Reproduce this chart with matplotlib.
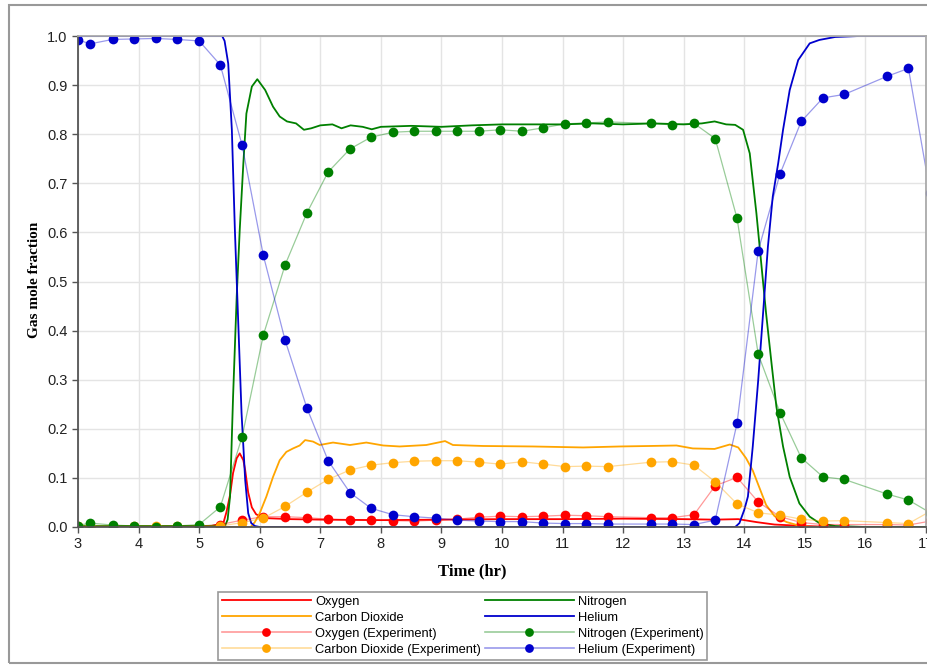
import matplotlib
matplotlib.use("Agg")
import matplotlib.pyplot as plt
from matplotlib.colors import to_rgba
from matplotlib.patches import Rectangle

plt.rcParams['font.family'] = ['Liberation Sans', 'DejaVu Sans']

# experiment sample times (hr)
t_exp = [3.0, 3.2, 3.57, 3.93, 4.28, 4.64, 5.0, 5.35, 5.71, 6.06, 6.42, 6.78, 7.13,
         7.49, 7.84, 8.2, 8.55, 8.91, 9.26, 9.62, 9.97, 10.33, 10.68, 11.04, 11.39,
         11.75, 12.46, 12.81, 13.17, 13.52, 13.88, 14.23, 14.59, 14.94, 15.3, 15.65,
         16.36, 16.71, 17.07]
he_exp = [0.992, 0.984, 0.993, 0.994, 0.995, 0.993, 0.99, 0.941, 0.777, 0.553, 0.38,
          0.242, 0.135, 0.07, 0.038, 0.025, 0.021, 0.018, 0.014, 0.012, 0.011, 0.011,
          0.008, 0.007, 0.007, 0.006, 0.006, 0.006, 0.005, 0.014, 0.211, 0.563, 0.719,
          0.826, 0.874, 0.881, 0.918, 0.934, 0.68]
n2_exp = [0.003, 0.008, 0.004, 0.002, 0.001, 0.002, 0.005, 0.041, 0.184, 0.391, 0.534,
          0.64, 0.723, 0.77, 0.794, 0.804, 0.806, 0.806, 0.806, 0.806, 0.809, 0.806,
          0.813, 0.821, 0.823, 0.825, 0.822, 0.819, 0.822, 0.791, 0.629, 0.352, 0.233,
          0.141, 0.102, 0.097, 0.067, 0.055, 0.029]
o2_exp = [0.001, 0.001, 0.001, 0.001, 0.001, 0.001, 0.001, 0.005, 0.014, 0.021, 0.021,
          0.019, 0.016, 0.014, 0.014, 0.013, 0.012, 0.014, 0.016, 0.02, 0.022, 0.021,
          0.022, 0.024, 0.023, 0.021, 0.019, 0.019, 0.025, 0.084, 0.101, 0.051, 0.021,
          0.009, 0.005, 0.005, 0.005, 0.004, 0.012]
co2_exp = [0.002, 0.002, 0.002, 0.002, 0.002, 0.002, 0.002, 0.002, 0.009, 0.018, 0.042,
           0.071, 0.097, 0.116, 0.126, 0.131, 0.134, 0.135, 0.135, 0.132, 0.128, 0.133,
           0.128, 0.123, 0.124, 0.123, 0.132, 0.133, 0.126, 0.092, 0.047, 0.029, 0.024,
           0.016, 0.012, 0.013, 0.009, 0.007, 0.032]

# simulation curves
he_t = [3.0, 5.38, 5.42, 5.48, 5.54, 5.59, 5.65, 5.7, 5.76, 5.81, 5.86, 5.92, 6.0,
        13.85, 13.92, 14.0, 14.06, 14.14, 14.23, 14.31, 14.39, 14.47, 14.56, 14.64,
        14.75, 14.89, 15.08, 15.24, 15.5, 15.9, 17.0]
he_sim = [1.0, 1.0, 0.99, 0.944, 0.809, 0.605, 0.401, 0.232, 0.096, 0.028, 0.008, 0.002,
          0.0, 0.0, 0.008, 0.035, 0.062, 0.164, 0.299, 0.435, 0.571, 0.673, 0.741, 0.809,
          0.89, 0.951, 0.985, 0.992, 0.998, 1.0, 1.0]

n2_t = [3.0, 5.0, 5.43, 5.47, 5.51, 5.56, 5.62, 5.67, 5.73, 5.78, 5.87, 5.96, 6.09,
        6.22, 6.33, 6.45, 6.6, 6.73, 6.85, 7.0, 7.2, 7.35, 7.5, 7.7, 7.85, 8.0, 8.5,
        9.0, 9.5, 10.0, 10.5, 11.0, 11.5, 12.0, 12.5, 13.0, 13.3, 13.51, 13.7, 13.85,
        13.98, 14.09, 14.2, 14.28, 14.36, 14.45, 14.53, 14.64, 14.75, 14.91, 15.08,
        15.24, 15.5, 16.0, 17.0]
n2_sim = [0.002, 0.002, 0.003, 0.015, 0.062, 0.265, 0.469, 0.605, 0.741, 0.842, 0.897,
          0.912, 0.89, 0.856, 0.836, 0.826, 0.822, 0.809, 0.812, 0.818, 0.82, 0.812,
          0.818, 0.815, 0.81, 0.815, 0.817, 0.815, 0.818, 0.82, 0.82, 0.82, 0.822, 0.82,
          0.822, 0.82, 0.822, 0.826, 0.82, 0.819, 0.809, 0.761, 0.639, 0.537, 0.435,
          0.333, 0.245, 0.164, 0.102, 0.048, 0.021, 0.008, 0.002, 0.0, 0.0]

o2_t = [3.0, 5.2, 5.4, 5.45, 5.51, 5.56, 5.62, 5.67, 5.73, 5.76, 5.81, 5.87, 5.94, 6.0,
        6.11, 6.5, 7.0, 8.0, 9.0, 10.0, 11.0, 12.0, 13.0, 13.5, 13.9, 14.2, 14.5, 15.0,
        15.5, 17.0]
o2_sim = [0.0, 0.002, 0.008, 0.03, 0.065, 0.11, 0.14, 0.15, 0.136, 0.116, 0.07, 0.04,
          0.026, 0.022, 0.018, 0.016, 0.015, 0.014, 0.015, 0.016, 0.016, 0.017, 0.016,
          0.015, 0.016, 0.01, 0.005, 0.002, 0.0, 0.0]

co2_t = [3.0, 5.85, 5.92, 6.0, 6.11, 6.22, 6.33, 6.44, 6.55, 6.66, 6.75, 6.88, 6.99,
         7.21, 7.49, 7.76, 8.04, 8.31, 8.75, 9.06, 9.19, 9.69, 10.51, 11.34, 11.94,
         12.44, 12.88, 13.15, 13.51, 13.76, 13.9, 14.03, 14.14, 14.25, 14.36, 14.5,
         14.7, 14.9, 15.1, 17.0]
co2_sim = [0.0, 0.0, 0.01, 0.028, 0.062, 0.102, 0.136, 0.153, 0.16, 0.166, 0.177, 0.174,
           0.167, 0.172, 0.167, 0.172, 0.166, 0.164, 0.167, 0.175, 0.167, 0.165, 0.164,
           0.162, 0.164, 0.165, 0.166, 0.16, 0.159, 0.168, 0.162, 0.14, 0.115, 0.08,
           0.045, 0.022, 0.01, 0.003, 0.0, 0.0]

x_ticks = list(range(3, 18))
y_ticks = [i / 10 for i in range(11)]

RED, ORANGE, GREEN, BLUE = '#ff0000', '#ffa500', '#008000', '#0000cd'

fig = plt.figure(figsize=(9.27, 6.65), dpi=100)
ax = fig.add_axes([78 / 927, 1 - 527 / 665, 848 / 927, 491 / 665])

l_o2, = ax.plot(o2_t, o2_sim, color=RED, lw=1.3, label='Oxygen')
l_co2, = ax.plot(co2_t, co2_sim, color=ORANGE, lw=1.3, label='Carbon Dioxide')
l_n2, = ax.plot(n2_t, n2_sim, color=GREEN, lw=1.3, label='Nitrogen')
l_he, = ax.plot(he_t, he_sim, color=BLUE, lw=1.3, label='Helium')

exp_lines = []
for y, c, name in [(o2_exp, RED, 'Oxygen'), (co2_exp, ORANGE, 'Carbon Dioxide'),
                   (n2_exp, GREEN, 'Nitrogen'), (he_exp, BLUE, 'Helium')]:
    ax.plot(t_exp, y, color=to_rgba(c, 0.4), lw=0.9)
    ax.plot(t_exp, y, 'o', color=c, ms=7, mec='none')
    h, = ax.plot([], [], color=to_rgba(c, 0.4), lw=1.2, marker='o', ms=7,
                 mfc=c, mec='none', label=name + ' (Experiment)')
    exp_lines.append(h)

ax.set_xlim(3, 17)
ax.set_ylim(0, 1.0)
ax.set_xticks(x_ticks)
ax.set_xticklabels([str(v) for v in x_ticks])
ax.set_yticks(y_ticks)
ax.set_yticklabels(['%.1f' % v for v in y_ticks])
ax.tick_params(labelsize=10.5, colors='#222', length=4, width=1)
ax.tick_params(axis='both', color='#555')
ax.grid(True, color='#e4e4e4', lw=1)
ax.set_axisbelow(True)
for s in ['left', 'bottom']:
    ax.spines[s].set_color('#555')
    ax.spines[s].set_linewidth(1.3)
for s in ['top', 'right']:
    ax.spines[s].set_color('#aaaaaa')
    ax.spines[s].set_linewidth(1.3)

fig.text(35 / 927, 1 - 280 / 665, 'Gas mole fraction', rotation=90, ha='center',
         va='center', family='Liberation Serif', weight='bold', fontsize=11)
fig.text(472 / 927, 1 - 571 / 665, 'Time (hr)', ha='center', va='center',
         family='Liberation Serif', weight='bold', fontsize=12)

fig.patches.append(Rectangle((9 / 927, 1 - 663 / 665), 1.0, 658 / 665, fill=False,
                             edgecolor='#999999', lw=1.5, transform=fig.transFigure))

handles = [l_o2, l_co2, exp_lines[0], exp_lines[1], l_n2, l_he, exp_lines[2], exp_lines[3]]
leg = fig.legend(handles=handles, loc='upper left',
                 bbox_to_anchor=(218 / 927, 1 - 592 / 665), ncol=2, fontsize=9.3,
                 handlelength=6.9, handletextpad=0.3, columnspacing=0.3,
                 labelspacing=0.3, borderpad=0.3, borderaxespad=0, fancybox=False,
                 edgecolor='#999999', framealpha=1, markerscale=0.9)
leg.get_frame().set_linewidth(1.2)

fig.savefig('out.png', dpi=100)
